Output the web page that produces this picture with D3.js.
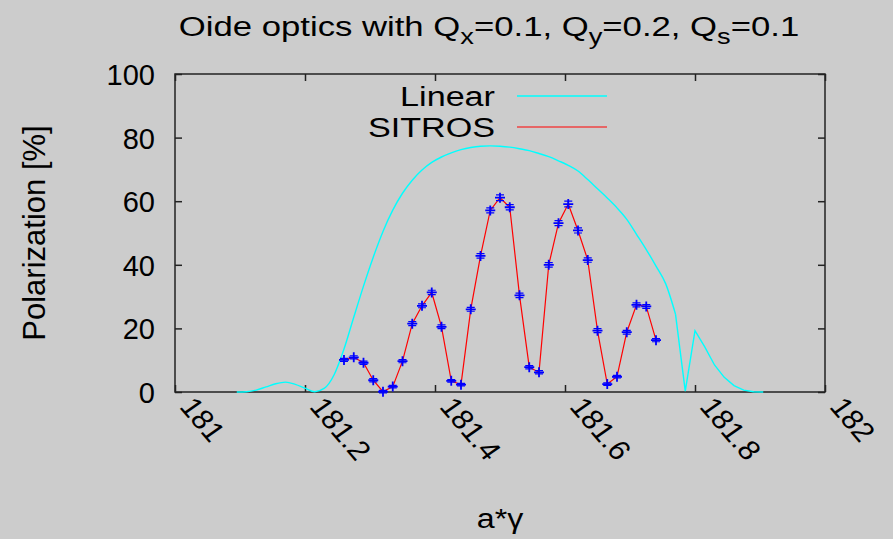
<!DOCTYPE html>
<meta charset="utf-8">
<title>Oide optics polarization</title>
<style>
    body { margin: 0; background: #cccccc; }
    text { font-family: "Liberation Sans", Arial, sans-serif; fill: #000; }
    .axis path, .axis line { stroke: #222; }
</style>

<body>
    <script src="https://d3js.org/d3.v7.min.js" charset="utf-8"></script>
    <script>
        // ---- data ----
        var linearX = [181.095, 181.11, 181.125, 181.14, 181.155, 181.17, 181.185, 181.2, 181.215, 181.23,
            181.245, 181.26, 181.275, 181.29, 181.305, 181.32, 181.335, 181.35, 181.365, 181.38,
            181.395, 181.41, 181.425, 181.44, 181.455, 181.47, 181.485, 181.5, 181.515, 181.53,
            181.545, 181.56, 181.575, 181.59, 181.605, 181.62, 181.635, 181.65, 181.665, 181.68,
            181.695, 181.71, 181.725, 181.74, 181.755, 181.77, 181.785, 181.8, 181.815, 181.83,
            181.845, 181.86, 181.875, 181.89, 181.905];
        var linearY = [0, 0.1, 0.6, 1.6, 2.6, 3.1, 2.4, 1.2, 0.1, 1.2,
            5.5, 13.5, 23.5, 33.3, 42.4, 50.5, 57.2, 62.5, 66.6, 69.8,
            72.2, 73.9, 75.2, 76.2, 76.9, 77.3, 77.4, 77.3, 77.0, 76.5,
            75.9, 75.0, 74.0, 72.7, 71.3, 69.5, 66.8, 63.9, 61.0, 57.9,
            54.3, 49.6, 44.8, 39.6, 34.0, 24.5, 0.3, 19.3, 14.2, 8.5,
            4.6, 2.0, 0.6, 0.1, 0];
        var linearKink = 45; // index where the curve turns sharply (181.77)

        var sitrosX = [181.26, 181.275, 181.29, 181.305, 181.32, 181.335, 181.35, 181.365, 181.38, 181.395,
            181.41, 181.425, 181.44, 181.455, 181.47, 181.485, 181.5, 181.515, 181.53, 181.545,
            181.56, 181.575, 181.59, 181.605, 181.62, 181.635, 181.65, 181.665, 181.68, 181.695,
            181.71, 181.725, 181.74];
        var sitrosY = [10.1, 10.9, 9.2, 3.7, 0.1, 1.7, 9.7, 21.5, 27.1, 31.3,
            20.5, 3.5, 2.3, 26.0, 42.8, 57.1, 61.1, 58.1, 30.4, 7.8,
            6.2, 40.0, 53.1, 59.1, 50.8, 41.5, 19.3, 2.5, 4.8, 18.8,
            27.4, 26.9, 16.3];
        var sitrosErr = [0.5, 0.5, 0.5, 0.5, 0.4, 0.4, 0.5, 0.6, 0.6, 0.7,
            0.6, 0.4, 0.4, 0.6, 0.7, 0.8, 0.9, 0.8, 0.7, 0.5,
            0.5, 0.7, 0.8, 0.9, 0.8, 0.7, 0.6, 0.4, 0.4, 0.6,
            0.6, 0.6, 0.5];

        var xTicks = [181, 181.2, 181.4, 181.6, 181.8, 182];
        var yTicks = [0, 20, 40, 60, 80, 100];
        var seriesNames = ["Linear", "SITROS"];

        // -----------------------
        var width = 893,
            height = 539;
        var plotLeft = 175, plotRight = 825, plotTop = 74, plotBottom = 392;
        var stretch = 1.24; // text in the picture is drawn wider than normal

        var svg = d3.select("body").append("svg")
            .attr("width", width)
            .attr("height", height);

        svg.append("rect").attr("width", width).attr("height", height).style("fill", "#cccccc");

        var x = d3.scaleLinear().domain([181, 182]).range([plotLeft, plotRight]);
        var y = d3.scaleLinear().domain([0, 100]).range([plotBottom, plotTop]);

        // frame
        svg.append("rect")
            .attr("x", plotLeft).attr("y", plotTop)
            .attr("width", plotRight - plotLeft).attr("height", plotBottom - plotTop)
            .style("fill", "none").style("stroke", "#222").style("stroke-width", 1.5);

        var fs = 28;

        // bottom axis, ticks pointing inward
        var gx = svg.append("g").attr("class", "axis")
            .attr("transform", "translate(0," + plotBottom + ")")
            .call(d3.axisBottom(x).tickValues(xTicks).tickSize(-7).tickPadding(0)
                .tickFormat(function (d) { return String(+d.toFixed(1)); }));
        gx.select(".domain").remove();
        gx.selectAll("text")
            .style("font-size", fs + "px")
            .attr("text-anchor", "start")
            .attr("dy", null)
            .attr("y", 0)
            .attr("transform", "translate(3,15) scale(1.1,1) rotate(52)");

        var gt = svg.append("g").attr("class", "axis")
            .attr("transform", "translate(0," + plotTop + ")")
            .call(d3.axisTop(x).tickValues(xTicks).tickSize(-7).tickFormat(""));
        gt.select(".domain").remove();

        var gy = svg.append("g").attr("class", "axis")
            .attr("transform", "translate(" + plotLeft + ",0)")
            .call(d3.axisLeft(y).tickValues(yTicks).tickSize(-7).tickPadding(20));
        gy.select(".domain").remove();
        gy.selectAll("text").style("font-size", "29px").attr("dy", "0.36em");

        var gr = svg.append("g").attr("class", "axis")
            .attr("transform", "translate(" + plotRight + ",0)")
            .call(d3.axisRight(y).tickValues(yTicks).tickSize(-7).tickFormat(""));
        gr.select(".domain").remove();

        svg.selectAll(".axis line").style("stroke-width", 1.5);

        // Linear curve: smooth part, then the sharp tail
        var line = d3.line()
            .x(function (d) { return x(d[0]); })
            .y(function (d) { return y(d[1]); });
        var smoothLine = d3.line()
            .x(function (d) { return x(d[0]); })
            .y(function (d) { return y(d[1]); })
            .curve(d3.curveMonotoneX);

        var linear = d3.zip(linearX, linearY);
        svg.append("path")
            .datum(linear.slice(0, linearKink + 1))
            .attr("d", smoothLine)
            .style("fill", "none")
            .style("stroke", "#00ffff")
            .style("stroke-width", 1.4);
        svg.append("path")
            .datum(linear.slice(linearKink))
            .attr("d", line)
            .style("fill", "none")
            .style("stroke", "#00ffff")
            .style("stroke-width", 1.4);

        // SITROS
        var sitros = d3.zip(sitrosX, sitrosY, sitrosErr);
        svg.append("path")
            .datum(sitros)
            .attr("d", line)
            .style("fill", "none")
            .style("stroke", "#ff0000")
            .style("stroke-width", 1.2);

        var pts = svg.append("g").selectAll("g")
            .data(sitros)
            .enter().append("g")
            .attr("transform", function (d) { return "translate(" + x(d[0]) + "," + y(d[1]) + ")"; })
            .style("stroke", "#0000ff");

        pts.append("path")
            .attr("d", function (d) {
                var e = y(0) - y(d[2]);
                return "M0," + (-e) + "V" + e +
                    "M-4," + (-e) + "H4M-4," + e + "H4";
            })
            .style("stroke-width", 1.2);
        pts.append("path")
            .attr("d", "M-5,0H5M0,-5V5")
            .style("stroke-width", 1.8);

        // legend
        var legendY = [96, 127];
        var legendColor = ["#00ffff", "#ff0000"];
        seriesNames.forEach(function (name, i) {
            svg.append("g")
                .attr("transform", "translate(495," + (legendY[i] + 10) + ") scale(1.22,1)")
                .append("text")
                .attr("text-anchor", "end")
                .style("font-size", fs + "px")
                .text(name);
            svg.append("line")
                .attr("x1", 517).attr("x2", 607)
                .attr("y1", legendY[i]).attr("y2", legendY[i])
                .style("stroke", legendColor[i])
                .style("stroke-width", i == 0 ? 1.4 : 1.2);
        });

        // title
        var title = svg.append("g")
            .attr("transform", "translate(489,36) scale(" + stretch + ",1)")
            .append("text")
            .attr("text-anchor", "middle")
            .style("font-size", fs + "px");
        var parts = [["Oide optics with Q", "x"], ["=0.1, Q", "y"], ["=0.2, Q", "s"], ["=0.1", null]];
        var shift = 0;
        parts.forEach(function (p) {
            title.append("tspan").attr("dy", -shift).text(p[0]);
            shift = 0;
            if (p[1]) {
                shift = 8;
                title.append("tspan").attr("dy", shift).style("font-size", "22px").text(p[1]);
            }
        });

        // axis titles
        svg.append("g")
            .attr("transform", "translate(500,528) scale(1.15,1)")
            .append("text")
            .attr("text-anchor", "middle")
            .style("font-size", fs + "px")
            .text("a*\u03b3");

        svg.append("text")
            .attr("transform", "translate(45,233) rotate(-90)")
            .attr("text-anchor", "middle")
            .style("font-size", "31px")
            .text("Polarization [%]");
    </script>
